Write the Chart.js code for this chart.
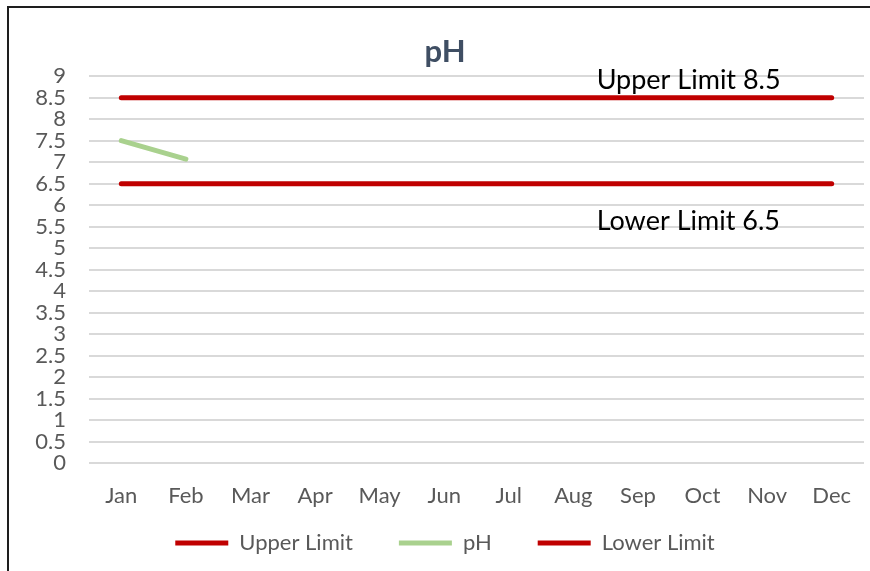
<!DOCTYPE html>
<html>
<head>
<meta charset="utf-8">
<script src="https://cdn.jsdelivr.net/npm/chart.js@4/dist/chart.umd.min.js"></script>
<style>
  html, body { margin:0; padding:0; background:#fff; overflow:hidden; }
  #wrap { position:relative; width:870px; height:571px; }
  #frame { position:absolute; left:7px; top:6px; width:900px; height:600px;
           border-top:2px solid #1e1e1e; border-left:2px solid #1e1e1e; pointer-events:none; }
  canvas { position:absolute; left:0; top:0; }
</style>
</head>
<body>
<div id="wrap">
  <canvas id="chart" width="870" height="571"></canvas>
  <div id="frame"></div>
</div>
<script>
// ===== DATA =====
const months = ["Jan","Feb","Mar","Apr","May","Jun","Jul","Aug","Sep","Oct","Nov","Dec"];
const upperLimit = [8.5,8.5,8.5,8.5,8.5,8.5,8.5,8.5,8.5,8.5,8.5,8.5];
const phValues = [7.5,7.07,null,null,null,null,null,null,null,null,null,null];
const lowerLimit = [6.5,6.5,6.5,6.5,6.5,6.5,6.5,6.5,6.5,6.5,6.5,6.5];
const limitNotes = ["Upper Limit 8.5","Lower Limit 6.5"];

const RED = "#C00000";
const GREEN = "#A9D18E";
const FONT = "Lato, 'Open Sans', sans-serif";

// where the two limit notes sit, in axis units (category index, value)
const notePos = [{x:7.36, y:8.9}, {x:7.36, y:5.63}];

// ===== NOTE TEXT PLUGIN =====
const limitText = {
    id:"limitText",
    afterLayout(chart){
        // pull the legend row up closer to the month labels
        const lg = chart.legend;
        lg.top -= 27;
        lg.height += 27;
    },
    afterDatasetsDraw(chart){
        const ctx = chart.ctx;
        const xs = chart.scales.x, ys = chart.scales.y;
        ctx.save();
        ctx.font = "27px " + FONT;
        ctx.fillStyle = "#000";
        ctx.textAlign = "left";
        ctx.textBaseline = "middle";
        limitNotes.forEach((t,i)=>{
            ctx.fillText(t, xs.getPixelForValue(notePos[i].x), ys.getPixelForValue(notePos[i].y));
        });
        ctx.restore();
    }
};

// ===== INIT CHART =====
const ctx = document.getElementById("chart").getContext("2d");
const chart = new Chart(ctx, {
    type:"line",
    data:{
        labels: months,
        datasets:[
            {label:"Upper Limit", data:upperLimit, borderColor:RED, backgroundColor:RED,
             borderWidth:5, borderCapStyle:"round", pointRadius:0, tension:0},
            {label:"pH", data:phValues, borderColor:GREEN, backgroundColor:GREEN,
             borderWidth:5, borderCapStyle:"round", pointRadius:0, tension:0},
            {label:"Lower Limit", data:lowerLimit, borderColor:RED, backgroundColor:RED,
             borderWidth:5, borderCapStyle:"round", pointRadius:0, tension:0}
        ]
    },
    options:{
        responsive:false,
        animation:false,
        layout:{padding:{left:26, right:6, top:26, bottom:0}},
        plugins:{
            title:{
                display:true, text:"pH", color:"#3F4E63",
                font:{family:FONT, size:31, weight:"bold"},
                padding:{top:7, bottom:6}
            },
            legend:{
                position:"bottom",
                maxHeight:58,
                labels:{
                    usePointStyle:true, pointStyle:"line", pointStyleWidth:53,
                    color:"#595959", font:{family:FONT, size:22}, padding:46
                }
            },
            tooltip:{enabled:false}
        },
        scales:{
            x:{
                offset:true,
                grid:{display:false},
                border:{display:false},
                ticks:{color:"#595959", font:{family:FONT, size:22, lineHeight:1}, padding:14, maxRotation:0},
                afterFit(s){ s.height = 50; }
            },
            y:{
                min:0, max:9,
                grid:{color:"#D9D9D9", lineWidth:2, drawTicks:false},
                border:{display:false},
                ticks:{stepSize:0.5, autoSkip:false, color:"#595959",
                       font:{family:FONT, size:22, lineHeight:1}, padding:23,
                       callback:v=>String(Number(v))},
                afterFit(s){ s.width = 63; }
            }
        }
    },
    plugins:[limitText]
});
</script>
</body>
</html>
